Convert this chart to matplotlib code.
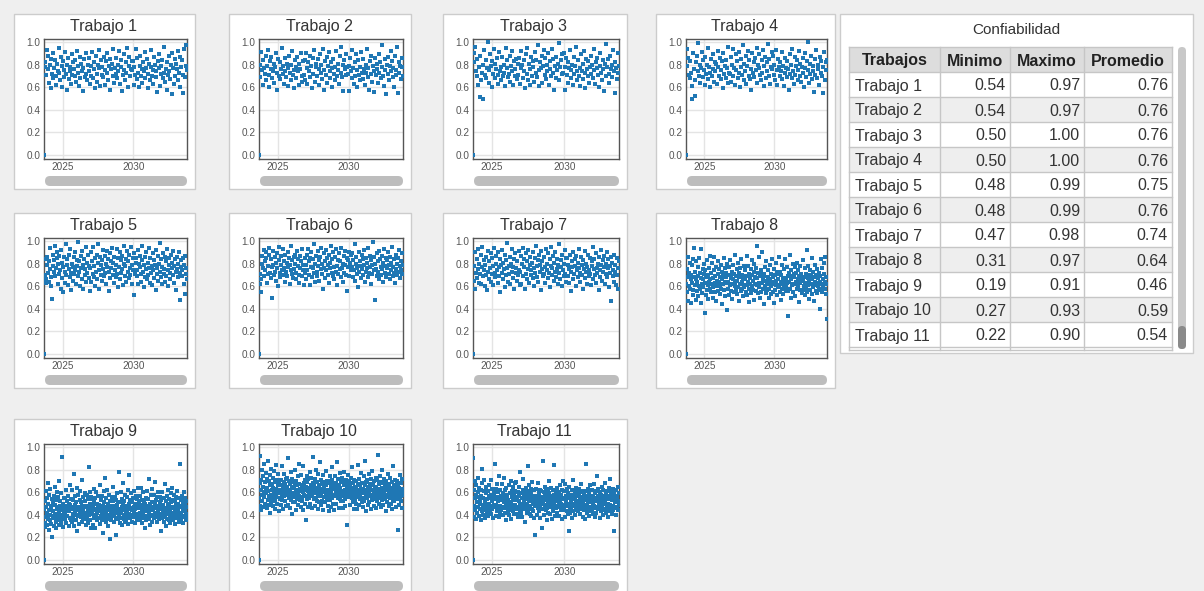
import matplotlib
matplotlib.use('Agg')
import matplotlib.pyplot as plt
import matplotlib.dates as mdates
from matplotlib.patches import Rectangle, FancyBboxPatch
import numpy as np
import pandas as pd

plt.rcParams['font.family'] = ['Liberation Sans', 'DejaVu Sans']

# ---- datos ----
inicio = '2023-09-09'
fin = '2033-10-12'
ticks_x = ['2025-01-01', '2030-01-01']
ticks_y = [0.0, 0.2, 0.4, 0.6, 0.8, 1.0]

trabajos = ['Trabajo %d' % i for i in range(1, 12)]
minimo = [0.54, 0.54, 0.50, 0.50, 0.48, 0.48, 0.47, 0.31, 0.19, 0.27, 0.22]
maximo = [0.97, 0.97, 1.00, 1.00, 0.99, 0.99, 0.98, 0.97, 0.91, 0.93, 0.90]
promedio = [0.76, 0.76, 0.76, 0.76, 0.75, 0.76, 0.74, 0.64, 0.46, 0.59, 0.54]

# confiabilidad por trabajo (x100), el primer punto es el 0 inicial
t1 = """00
78 82 71 93 88 76 64 80 85 59 72 90 68 77 84 70 62 81 74 95
73 66 87 79 60 83 75 69 91 72 58 80 86 67 74 78 63 89 71 82
76 70 84 65 92 73 79 61 68 87 81 74 57 77 85 69 72 90 66 80
74 86 63 79 70 91 68 82 76 59 88 72 65 80 77 93 61 84 71 78
69 87 75 62 83 73 90 66 79 85 58 76 81 70 94 64 77 86 72 68
80 74 92 63 78 84 57 71 89 75 66 82 73 95 60 79 87 70 76 83
75 83 62 78 71 94 67 86 73 60 79 88 70 76 64 82 74 91 68 77
85 72 59 81 66 78 93 70 75 63 87 80 69 74 56 83 77 89 61 72
79 84 68 73 96 65 76 82 58 71 88 74 67 80 54 90 77 63 85 70
81 76 92 66 73 87 60 78 84 55 71 94 69 79 97 75"""
t2 = """00
80 69 91 75 62 84 77 72 88 66 79 93 71 60 83 76 87 68 74 81
64 78 90 73 58 85 70 82 67 76 95 72 79 63 86 74 69 81 77 61
88 73 66 80 92 71 75 59 84 78 68 87 74 62 81 76 90 70 65 83
71 84 66 90 77 63 82 74 88 69 79 59 86 72 93 65 78 81 70 85
76 62 89 73 80 67 94 75 58 83 71 87 64 79 91 74 68 82 77 60
85 72 78 66 92 70 81 75 63 88 73 96 69 80 57 84 76 71 89 78
72 79 57 86 74 68 93 77 63 82 70 89 75 60 84 71 78 66 91 73
67 85 76 62 80 73 94 69 77 58 83 72 88 65 79 74 56 86 71 81
76 64 89 73 82 68 78 97 70 61 85 75 54 80 72 87 66 79 92 74
83 69 77 60 88 75 71 96 55 82 73 79 67 86 78 70"""
t3 = """00
82 90 96 74 70 85 62 78 51 88 66 73 50 80 93 71 84 68 77 100
75 64 89 79 60 83 72 94 68 81 76 86 63 71 91 74 78 66 87 70
80 73 61 95 77 84 69 72 88 65 79 74 92 62 83 70 76 85 67 81
71 86 63 92 77 80 68 84 74 59 89 72 95 66 81 76 62 87 70 83
78 65 91 73 84 69 97 75 61 82 77 88 64 79 93 71 86 67 80 74
90 62 83 76 70 94 73 85 58 79 68 87 75 81 99 66 78 84 72 89
73 90 58 78 86 71 64 82 77 93 68 75 80 62 87 72 79 96 66 74
84 70 77 61 89 74 81 67 92 73 59 85 76 70 83 64 78 88 72 80
68 94 75 63 82 77 86 71 60 79 90 73 66 84 76 57 81 98 70 78
85 72 64 88 76 80 69 93 74 55 82 77 67 90 73 79"""
t4 = """00
79 94 86 71 68 83 73 61 50 90 76 66 52 82 88 74 99 70 80 64
77 91 69 84 75 62 87 72 80 95 67 78 73 60 85 70 89 76 65 82
74 81 63 92 78 70 86 67 75 83 59 90 72 79 68 84 77 96 64 73
72 87 65 80 94 70 77 62 89 75 83 68 91 73 60 85 78 71 97 66
81 74 88 63 79 92 70 84 67 76 58 90 73 82 69 86 75 95 64 80
77 89 71 66 84 73 93 61 79 87 68 82 74 98 70 85 63 78 91 76
88 71 80 66 93 75 62 85 78 70 82 74 91 67 79 61 86 73 77 69
83 76 58 89 72 80 68 94 74 63 87 71 79 84 66 75 92 70 81 65
78 86 73 60 90 77 69 83 75 100 64 81 72 88 67 79 74 56 85 71
93 68 80 76 62 87 73 83 70 55 78 91 66 82 75 84"""
t5 = """00
70 84 63 66 79 86 72 64 82 75 94 60 68 49 88 78 73 83 96 69
76 85 90 62 80 71 87 74 58 92 67 81 55 77 86 63 73 97 70 79
84 61 75 88 68 93 72 57 80 77 65 86 71 90 74 62 83 78 69 99
73 82 60 87 76 66 91 79 58 84 70 75 95 64 81 72 88 67 78 56
76 90 64 82 71 95 68 78 85 60 73 88 66 81 97 74 58 86 70 79
83 65 92 75 69 87 72 80 62 91 77 84 56 73 89 67 82 76 94 70
81 63 86 74 79 68 93 71 85 59 77 90 66 83 72 87 75 61 80 96
69 78 84 64 91 73 82 67 88 76 70 95 62 79 85 74 52 89 71 81
85 74 69 92 62 80 77 87 71 64 83 96 73 59 79 86 68 75 90 66
81 70 76 94 63 85 72 78 61 89 74 67 83 79 57 92 71 76 87 65
80 73 98 68 84 62 77 89 71 75 64 86 82 69 93 74 60 79 85 72
66 88 76 81 70 91 63 78 84 73 57 86 75 80 68 90 72 48 83 77
69 74 85 62 79 53 87 71 76 66"""
t6 = """00
62 71 55 66 80 87 76 92 69 82 74 90 85 63 78 71 94 88 72 67
84 77 50 79 91 70 86 73 81 65 89 76 60 83 95 72 68 87 79 74
93 70 82 76 64 88 73 81 69 90 77 85 62 79 74 96 71 83 67 86
75 80 88 72 66 91 78 84 70 63 87 76 82 69 93 74 79 61 85 72
79 66 88 74 93 70 82 61 85 77 90 68 76 84 72 97 64 80 87 73
69 91 78 83 65 86 75 94 71 80 58 89 76 82 67 92 74 85 70 79
88 63 81 76 96 72 84 69 90 77 66 86 73 93 78 61 83 71 89 75
82 68 94 76 80 64 87 72 91 79 70 85 56 83 77 90 69 81 74 88
77 89 68 83 74 97 65 80 86 71 76 59 90 73 82 78 67 88 75 84
70 92 79 64 85 73 81 76 68 94 72 87 77 62 83 79 71 99 74 86
48 80 75 89 69 82 73 91 66 84 77 70 87 75 64 81 93 72 78 85
68 83 76 90 71 79 66 86 74 81 95 69 77 84 72 63 88 75 80 70
85 73 92 78 67 82 74 89 71 79"""
t7 = """00
65 78 90 58 72 84 67 93 75 63 80 71 88 62 77 95 69 74 83 60
79 86 70 57 91 73 66 82 76 89 64 71 85 78 61 94 72 68 80 87
74 63 90 77 69 84 55 79 72 92 66 81 75 59 88 70 83 76 98 64
78 71 86 62 80 73 93 67 77 84 58 89 72 76 65 82 70 91 74 61
73 87 62 80 94 69 77 84 58 71 89 66 82 75 92 63 79 86 70 74
81 67 90 76 60 85 72 96 68 78 83 64 88 73 79 57 91 75 82 69
86 71 77 63 93 74 80 67 89 72 84 59 78 95 70 76 87 65 81 73
90 68 75 84 62 79 72 97 66 83 77 60 88 74 80 69 92 71 85 64
85 69 79 75 63 88 73 56 82 77 90 66 71 84 78 60 87 74 68 81
76 93 64 72 86 70 79 58 83 75 67 91 73 80 62 77 88 69 74 85
71 61 82 78 95 66 75 84 70 63 89 76 72 80 57 86 74 68 92 79
65 83 73 77 87 62 80 71 90 68 76 84 59 78 72 86 47 81 69 74
88 64 79 73 61 85 70 58 76 82"""
t8 = """00
62 75 55 68 86 47 60 72 81 58 66 45 70 79 63 52 84 57 68 94
61 73 48 66 82 56 64 77 51 69 60 85 58 72 45 67 93 62 54 75
66 59 80 71 36 63 74 52 68 57 83 61 70 49 76 64 58 87 66 55
72 62 81 50 67 59 74 86 63 55 69 77 47 65 60 82 71 56 64 75
53 68 61 79 58 73 66 44 70 62 85 57 76 64 51 68 72 39 63 80
64 58 77 52 70 61 83 56 67 73 49 62 79 66 55 71 60 88 63 57
69 75 53 65 81 59 68 47 72 62 76 56 84 64 58 70 51 67 61 78
59 66 74 55 69 61 87 52 64 78 58 71 46 67 62 75 54 83 60 70
65 57 73 48 80 62 68 56 76 96 61 67 54 72 59 86 63 50 69 74
55 73 63 90 58 66 71 44 69 60 77 54 65 82 62 57 74 68 50 63
58 66 79 53 71 60 64 84 55 68 62 75 45 70 57 65 81 61 52 73
71 59 66 86 61 55 73 64 48 70 58 79 62 67 53 75 60 84 65 56
67 59 77 63 34 69 56 72 64 88 58 66 50 74 61 69 55 80 62 71
68 62 77 51 72 64 58 81 66 60 74 46 69 63 78 57 65 71 54 67
57 65 83 60 68 52 76 63 58 71 92 55 67 61 78 49 64 70 57 74
62 69 53 85 66 59 73 61 47 68 64 79 56 70 63 54 75 60 67 58
72 64 40 69 57 84 62 76 55 66 60 81 71 58 86 64 53 68 62 31"""
t9 = """00
45 33 52 29 61 38 47 55 31 42 68 36 50 27 44 58 35 40 63 48
32 46 54 20 39 51 43 30 57 37 65 41 49 34 53 28 45 60 38 47
56 35 42 70 31 48 39 52 44 33 59 40 91 36 46 50 29 43 55 38
41 55 36 48 62 33 46 52 39 57 44 30 50 43 66 37 49 54 35 45
47 62 34 41 53 37 45 76 30 49 43 57 35 40 51 26 46 64 39 44
58 40 47 32 53 42 61 38 45 51 34 48 71 43 56 36 47 41 59 39
52 36 48 31 58 42 38 54 45 33 82 47 40 60 35 50 43 28 56 41
46 54 31 49 44 63 37 52 40 28 55 45 38 60 42 50 35 47 57 43
37 49 44 66 32 46 39 53 41 35 57 24 48 43 61 38 51 36 45 73
42 55 34 47 40 62 30 50 44 38 58 36 46 52 19 41 48 35 56 43
39 52 46 65 34 48 41 56 44 37 53 22 49 42 59 36 45 51 40 78
39 51 45 33 60 42 37 54 47 31 49 44 68 36 52 40 46 34 58 41
48 35 56 43 39 62 45 32 50 41 75 37 53 46 38 59 44 34 51 40
55 38 47 43 61 33 50 45 39 57 41 48 36 54 46 64 40 49 35 52
57 42 36 49 64 38 45 53 33 47 41 60 37 52 44 28 50 39 55 46
35 61 43 48 38 54 42 72 36 50 45 31 58 40 47 63 34 51 44 39
44 58 37 46 42 69 50 38 53 41 47 34 56 43 60 39 48 45 36 51
56 41 48 26 53 37 45 60 42 49 34 55 40 46 67 38 52 43 30 57
44 36 50 41 62 35 48 54 39 45 33 59 42 51 37 47 64 40 53 35
46 58 38 43 52 32 49 41 56 37 45 61 39 50 43 34 55 47 40 85
42 53 36 48 57 39 44 51 33 46 60 38 49 43 55 35 47 41 52 37"""
t10 = """00
55 68 48 92 62 71 44 58 80 52 65 74 47 60 85 56 69 50 63 77
59 46 72 64 53 88 61 49 70 57 66 42 75 58 81 51 67 62 55 73
48 64 57 79 60 52 69 45 63 84 56 71 50 66 59 76 43 61 68 54
62 55 71 49 66 58 83 53 64 60 45 69 57 76 52 63 67 48 61 72
73 58 65 49 62 90 55 70 46 60 67 53 78 57 64 41 72 59 51 69
56 65 59 80 51 68 62 44 70 58 66 54 74 60 49 67 57 85 63 53
61 47 75 56 66 52 83 60 44 68 58 63 71 50 57 65 35 62 74 54
69 61 47 72 58 64 55 78 62 50 66 59 73 46 65 57 68 91 54 61
67 59 48 72 55 64 80 52 61 69 45 58 76 63 51 66 57 87 60 49
58 71 63 52 67 60 44 75 56 64 69 51 62 79 58 66 53 70 61 48
70 56 62 43 68 58 74 53 65 60 47 71 55 82 63 50 67 58 44 64
65 57 74 59 68 50 63 87 55 61 72 46 66 58 64 54 77 60 69 52
57 73 61 52 69 46 59 66 78 54 62 48 71 60 56 65 31 68 58 75
63 56 70 61 49 67 58 73 64 55 82 60 51 68 62 57 71 45 65 59
53 64 50 70 59 62 45 67 84 56 61 72 49 58 66 54 63 77 51 60
68 55 63 47 74 59 52 66 61 88 57 43 69 62 55 71 58 49 65 76
60 51 67 57 64 45 72 58 62 53 79 56 66 48 61 70 54 63 59 73
46 65 58 71 52 62 93 56 67 50 60 74 55 63 47 69 58 64 80 53
61 68 49 57 72 59 54 66 43 63 70 56 62 51 76 58 65 48 60 67
55 73 62 50 64 58 69 45 61 57 83 53 66 60 52 71 56 63 47 65
59 70 54 62 27 67 58 49 64 75 56 61 52 68 57 63 46 72 58 60"""
t11 = """00
90 48 62 38 70 55 44 58 36 66 51 42 60 47 73 39 56 64 45 53
50 62 35 57 81 43 68 49 55 40 61 46 71 52 37 59 44 65 50 41
54 46 61 39 57 50 66 43 55 48 71 41 58 52 45 63 37 56 49 60
58 47 85 54 39 63 49 56 43 67 52 45 60 38 55 74 48 62 42 57
44 53 67 47 59 40 55 51 73 46 62 42 57 50 35 64 48 54 58 43
46 53 66 40 59 50 44 70 51 36 61 48 56 43 65 53 47 58 41 68
61 49 45 56 69 41 53 47 60 38 57 52 65 44 50 78 46 59 42 55
55 38 62 49 72 45 57 52 34 60 47 64 54 42 58 50 83 44 61 48
52 66 41 56 47 63 39 59 53 45 69 50 43 57 37 62 48 55 22 51
48 63 51 40 57 46 54 68 43 52 59 37 62 49 56 45 61 53 28 50
88 45 60 54 40 58 49 65 44 53 61 46 56 35 63 50 42 59 47 70
53 41 57 48 64 36 55 51 45 62 43 58 50 84 47 56 39 60 52 46
57 42 64 48 55 51 39 60 47 66 53 44 58 50 62 36 55 49 70 46
61 44 54 67 49 38 57 52 43 63 48 55 41 59 26 50 65 46 56 42
58 51 45 62 37 54 48 71 43 57 50 60 40 55 47 64 52 44 58 49
52 59 43 57 48 63 41 54 60 45 51 67 47 56 38 61 50 44 58 53
36 61 53 46 57 85 42 55 49 63 45 52 58 39 60 47 54 66 43 51
57 44 62 50 41 56 48 67 53 38 59 46 55 61 42 52 74 47 57 45
63 49 54 37 60 46 58 51 43 65 55 48 62 40 53 57 45 50 68 44
52 59 42 56 47 61 38 54 50 64 45 57 49 72 43 55 60 46 53 41
58 48 63 44 55 26 60 51 46 57 40 62 53 47 56 65 44 52 59 49"""

series = [t1, t2, t3, t4, t5, t6, t7, t8, t9, t10, t11]

# ---- figura ----
W, H = 1204, 591
fig = plt.figure(figsize=(W / 100, H / 100), dpi=100, facecolor='#efefef')

bg = fig.add_axes([0, 0, 1, 1])
bg.set_xlim(0, W)
bg.set_ylim(H, 0)
bg.axis('off')


def px_axes(x0, y0, x1, y1):
    return fig.add_axes([x0 / W, 1 - y1 / H, (x1 - x0) / W, (y1 - y0) / H])


card_x = [(14, 195), (229, 411), (443, 627), (656, 835)]
card_y = [14, 213, 419]
azul = '#1f77b4'

for i, txt in enumerate(series):
    fila, col = divmod(i, 4)
    x0, x1 = card_x[col]
    y0 = card_y[fila]
    bg.add_patch(Rectangle((x0, y0), x1 - x0, 175, facecolor='white',
                           edgecolor='#cccccc', lw=1))
    bg.text((x0 + x1) / 2 - 1, y0 + 17, trabajos[i], ha='center', va='baseline',
            fontsize=11.5, color='#333333')
    bg.add_patch(FancyBboxPatch((x0 + 31, y0 + 162), x1 - x0 - 39, 10,
                                boxstyle='round,pad=0,rounding_size=5',
                                facecolor='#bdbdbd', edgecolor='none'))

    vals = np.array(txt.split(), dtype=float) / 100
    fechas = pd.date_range(inicio, fin, periods=len(vals))

    ax = px_axes(x0 + 30, y0 + 25, x1 - 8, y0 + 145)
    ax.scatter(fechas, vals, s=9, marker='s', color=azul, linewidths=0, zorder=3)
    ax.set_xlim(fechas[0], fechas[-1])
    ax.set_ylim(-0.035, 1.027)
    ax.set_yticks(ticks_y)
    ax.set_yticklabels(['%.1f' % v for v in ticks_y])
    ax.set_xticks(pd.to_datetime(ticks_x))
    ax.xaxis.set_major_formatter(mdates.DateFormatter('%Y'))
    ax.grid(True, color='#e4e4e4', lw=1, zorder=0)
    ax.tick_params(length=0, labelsize=7.2, labelcolor='#555555', pad=2.5)
    for sp in ax.spines.values():
        sp.set_color('#555555')
        sp.set_linewidth(1)

# ---- tabla ----
tx0, tx1 = 840, 1193
bg.add_patch(Rectangle((tx0, 14), tx1 - tx0, 339, facecolor='white',
                       edgecolor='#cccccc', lw=1))
bg.text(1016, 30, 'Confiabilidad', ha='center', va='center', fontsize=11,
        color='#333333')

cols = [849, 940, 1010, 1084, 1172]
encab = ['Trabajos', 'Minimo', 'Maximo', 'Promedio']
top, h_enc, h_fila = 47, 25, 25
borde = '#c6c6c6'

bg.add_patch(Rectangle((cols[0], top), cols[-1] - cols[0], h_enc,
                       facecolor='#dddddd', edgecolor='none'))
for j, e in enumerate(encab):
    bg.text((cols[j] + cols[j + 1]) / 2, top + h_enc / 2, e, ha='center',
            va='center_baseline', fontsize=11.5, fontweight='bold', color='#222222')

for i in range(len(trabajos)):
    y = top + h_enc + i * h_fila
    bg.add_patch(Rectangle((cols[0], y), cols[-1] - cols[0], h_fila,
                           facecolor='white' if i % 2 == 0 else '#eeeeee',
                           edgecolor='none'))
    celdas = [trabajos[i], '%.2f' % minimo[i], '%.2f' % maximo[i], '%.2f' % promedio[i]]
    for j, c in enumerate(celdas):
        if j == 0:
            bg.text(cols[0] + 6, y + h_fila / 2, c, ha='left', va='center_baseline',
                    fontsize=11.5, color='#333333')
        else:
            bg.text(cols[j + 1] - 4, y + h_fila / 2, c, ha='right',
                    va='center_baseline', fontsize=11.5, color='#333333')

fondo = top + h_enc + len(trabajos) * h_fila
bg.add_patch(Rectangle((cols[0], fondo), cols[-1] - cols[0], 3,
                       facecolor='white', edgecolor='none'))
# lineas de la tabla
for yy in [top] + [top + h_enc + k * h_fila for k in range(len(trabajos) + 1)]:
    bg.plot([cols[0], cols[-1]], [yy, yy], color=borde, lw=1)
for xx in cols:
    bg.plot([xx, xx], [top, fondo + 3], color=borde, lw=1)
bg.plot([cols[0], cols[-1]], [fondo + 3, fondo + 3], color=borde, lw=1)

# barra de desplazamiento
bg.add_patch(FancyBboxPatch((1178, 47), 8, 302, boxstyle='round,pad=0,rounding_size=4',
                            facecolor='#c8c8c8', edgecolor='none'))
bg.add_patch(FancyBboxPatch((1178, 326), 8, 23, boxstyle='round,pad=0,rounding_size=4',
                            facecolor='#8a8a8a', edgecolor='none'))

fig.savefig('out.png', dpi=100, facecolor=fig.get_facecolor())
